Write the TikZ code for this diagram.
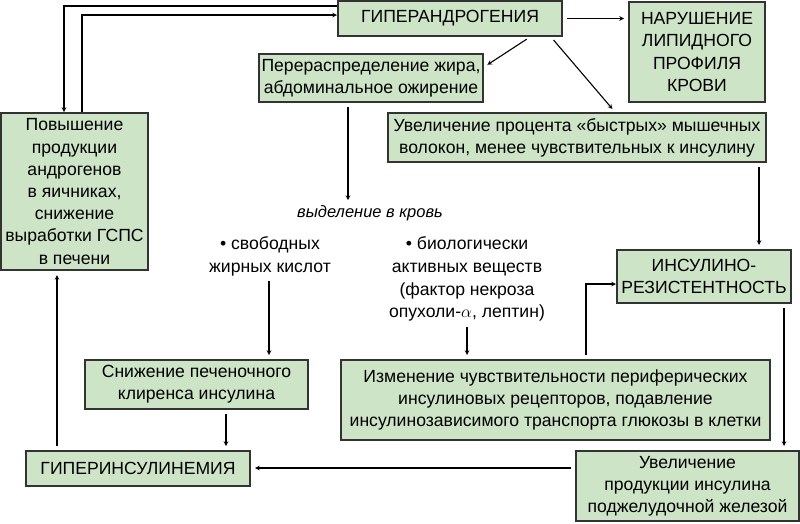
\documentclass[tikz,border=0pt]{standalone}
\usepackage{fontspec}
\setmainfont{Liberation Sans}
\definecolor{boxgreen}{RGB}{205,228,199}

\begin{document}
\begin{tikzpicture}
[x=1pt,y=-1pt,
  boxdecorate/.style={draw=black!80,fill=boxgreen,line width=2pt,align=center,%
    inner sep=0pt,font=\fontsize{17.6}{22.2}\selectfont},
  textdecorate/.style={align=center,inner sep=1pt,font=\fontsize{17.6}{22.8}\selectfont},
  arrowdecorate/.style={->,>=stealth,line width=1.1pt,shorten <=4pt,shorten >=4pt}]
\useasboundingbox (0,0) rectangle (800,523);
%% boxes
\foreach \nodename/\x/\y/\w/\h/\content in {
  andro/450/18.5/224/35/{ГИПЕРАНДРОГЕНИЯ},
  lipid/697/52/136/100/{НАРУШЕНИЕ\\ЛИПИДНОГО\\ПРОФИЛЯ\\КРОВИ},
  fat/371/78/224/48/{Перераспределение жира,\\абдоминальное ожирение},
  fast/577/137.5/378/49/{Увеличение процента «быстрых» мышечных\\волокон, менее чувствительных к инсулину},
  ovary/74.5/191.5/147/157/{Повышение\\продукции\\андрогенов\\в яичниках,\\снижение\\выработки ГСПС\\в печени},
  resist/704/276.5/174/53/{ИНСУЛИНО-\\РЕЗИСТЕНТНОСТЬ},
  liver/196.5/384.5/223/49/{Снижение печеночного\\клиренса инсулина},
  receptor/555.5/400/429/80/{Изменение чувствительности периферических\\инсулиновых рецепторов, подавление\\инсулинозависимого транспорта глюкозы в клетки},
  hyperins/138/468.5/224/35/{ГИПЕРИНСУЛИНЕМИЯ},
  prod/687.5/486/223/70/{Увеличение\\продукции инсулина\\поджелудочной железой}}
{
  \node (\nodename) at (\x,\y) [boxdecorate,minimum width=\w pt,minimum height=\h pt] {\content};
}
%% free texts
\node (blood) at (370,213) [textdecorate,font=\fontsize{16.5}{20}\selectfont\itshape] {выделение в кровь};
\node (ffa) at (270,256) [textdecorate] {• свободных\\жирных кислот};
\node (bio) at (467,279) [textdecorate] {• биологически\\активных веществ\\(фактор некроза\\опухоли-$\alpha$, лептин)};
%% edges or lines
\foreach \startnode/\endnode/\x in {fat/blood/348, ffa/liver/269, bio/receptor/467,
  liver/hyperins/226, fast/resist/759, resist/prod/784}
{
  \draw[arrowdecorate] (\startnode.south -| \x,0) -- (\endnode.north -| \x,0);
}
\draw[arrowdecorate] (hyperins.north -| 57,0) -- (ovary.south -| 57,0);
\draw[arrowdecorate] (prod.west |- 0,468) -- (hyperins.east |- 0,468);
\draw[arrowdecorate] (andro.east) -- (lipid.west |- andro.east);
\draw[arrowdecorate] (andro.south -| 530,0) -- (fat.east |- 0,67);
\draw[arrowdecorate] (andro.south -| 551,0) -- (fast.north -| 615,0);
\draw[arrowdecorate,shorten <=0pt,shorten >=0pt] (andro.west |- 0,6) -| (ovary.north -| 64,0);
\draw[arrowdecorate,shorten <=0pt,shorten >=0pt] (ovary.north -| 82,0) |- (andro.west |- 0,15);
\draw[arrowdecorate,shorten >=0pt] (receptor.north -| 586,0) |- (resist.west |- 0,284);
\end{tikzpicture}
\end{document}
